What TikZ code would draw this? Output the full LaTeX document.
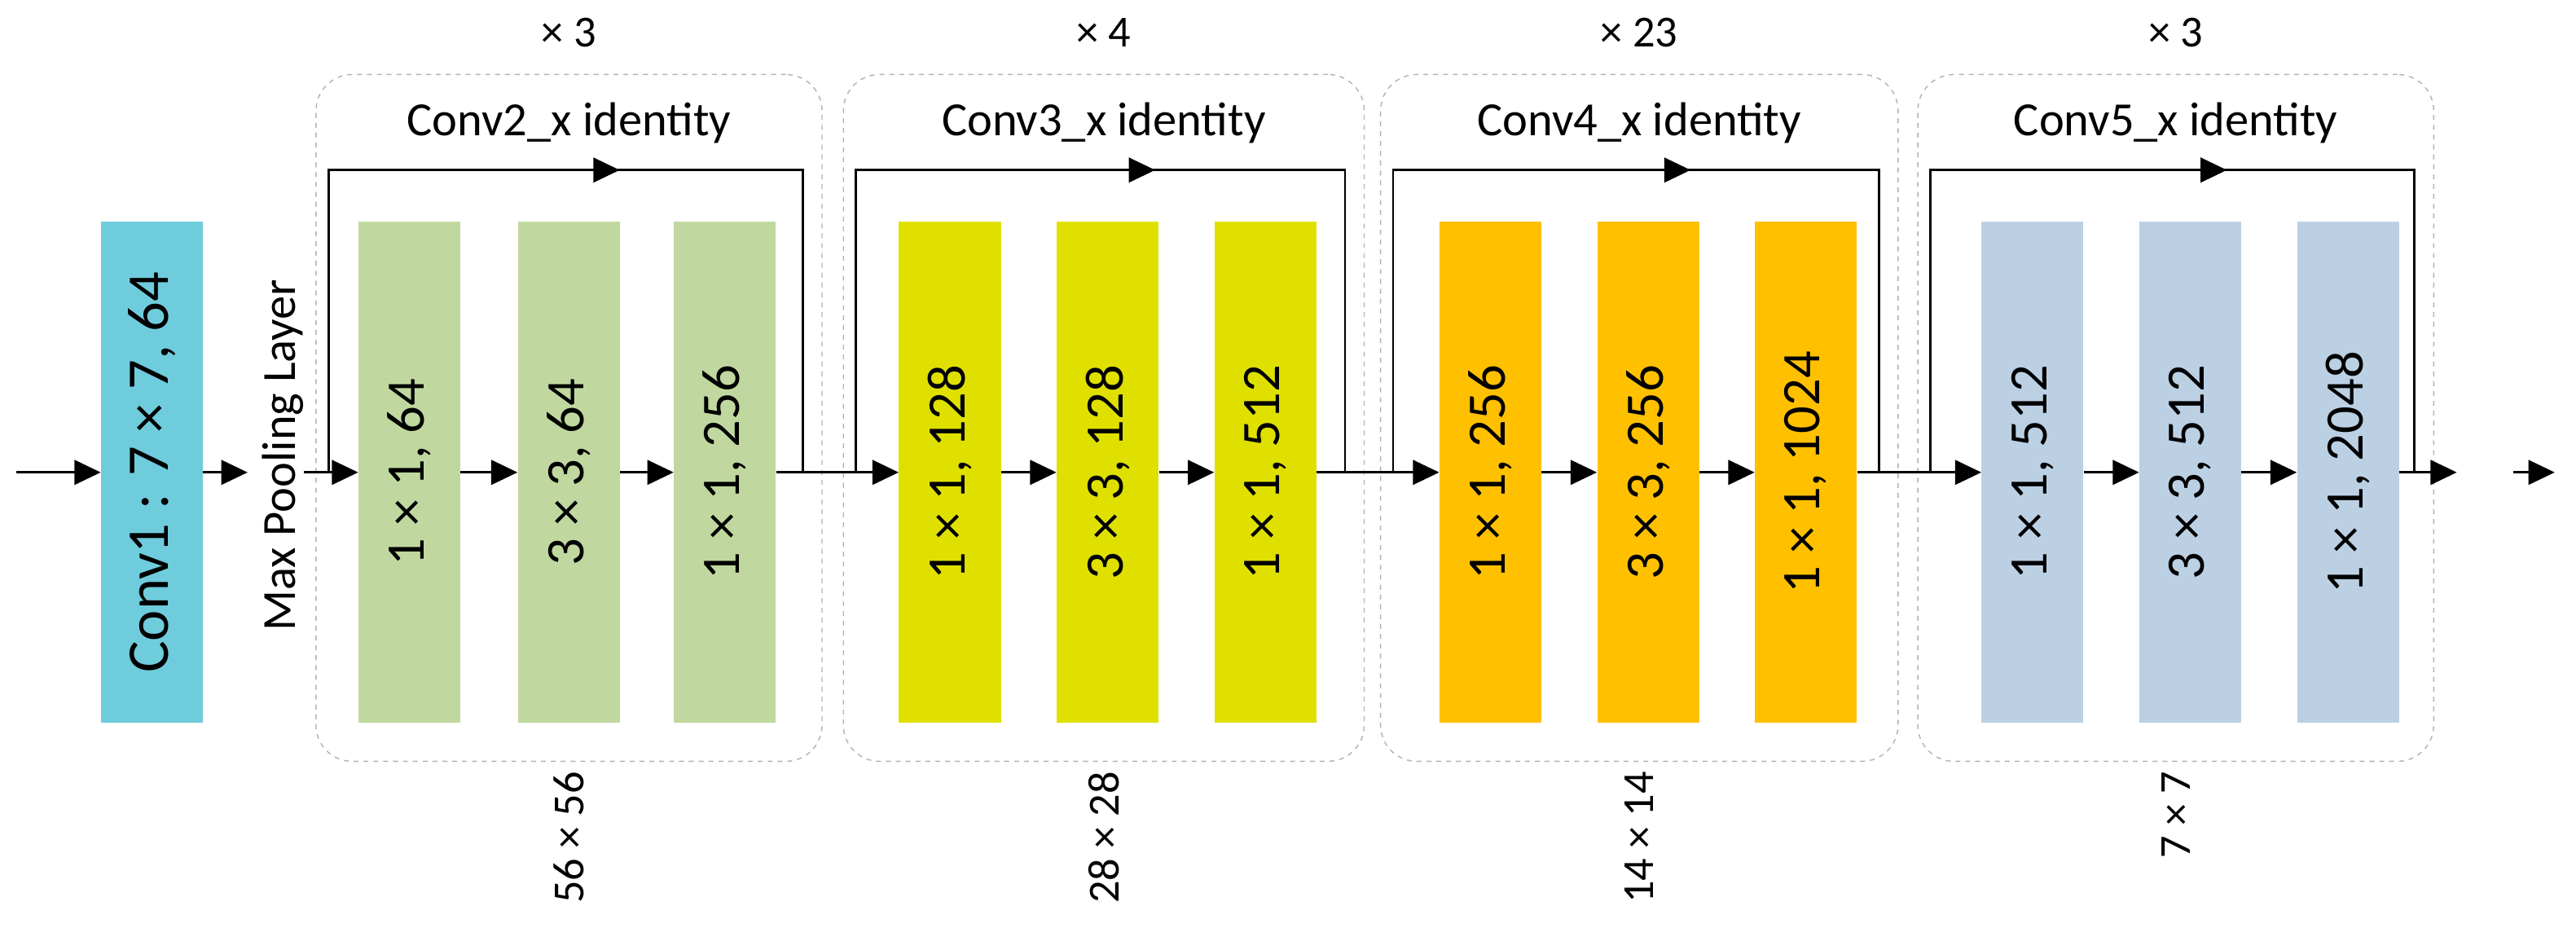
\documentclass[tikz,border=0pt]{standalone}
\usepackage{fontspec}
\setmainfont{Carlito}
\usetikzlibrary{arrows.meta,decorations.markings}
\definecolor{cA}{HTML}{6FCCDD}
\definecolor{cG}{HTML}{C0D89F}
\definecolor{cY}{HTML}{E0E000}
\definecolor{cO}{HTML}{FFC000}
\definecolor{cB}{HTML}{BCD0E4}
\begin{document}
\begin{tikzpicture}[x=1pt,y=-1pt,
  blk/.style={minimum width=62pt,minimum height=305pt,inner sep=0pt,font=\fontsize{33}{33}\selectfont},
  grp/.style={draw=gray!60,dashed,rounded corners=22pt,line width=0.7pt},
  ar/.style={-{Triangle[length=16pt,width=15pt]},line width=1.4pt},
  ln/.style={line width=1.4pt},
  mid/.style={postaction={decorate},decoration={markings,mark=at position 0.55 with {\arrow{Triangle[length=16pt,width=15pt]}}}}]
\useasboundingbox (0,0) rectangle (1568,570);
\node[blk,fill=cA,font=\fontsize{36}{36}\selectfont] (c1) at (92.5,287.5) {\rotatebox{90}{Conv1 : 7 × 7, 64}};
\coordinate (in) at (10,287.5);
\draw[ar] (in) -- (c1.west);
\node[font=\fontsize{29}{29}\selectfont] (mp) at (172,277) {\rotatebox{90}{Max Pooling Layer}};
\draw[ar] (c1.east) -- ++(27,0) coordinate (a1);
% groups
\foreach \g/\gx/\gw/\col/\rep/\name/\sz/\b/\c/\d/\la/\lb/\lc in {
 1/192/308/cG/3/2/56 × 56/218/315/410/{1 × 1, 64}/{3 × 3, 64}/{1 × 1, 256},
 2/513/317/cY/4/3/28 × 28/547/643/739/{1 × 1, 128}/{3 × 3, 128}/{1 × 1, 512},
 3/840/315/cO/23/4/14 × 14/876/972/1068/{1 × 1, 256}/{3 × 3, 256}/{1 × 1, 1024},
 4/1167/314/cB/3/5/7 × 7/1206/1302/1398/{1 × 1, 512}/{3 × 3, 512}/{1 × 1, 2048}}{
  \node[grp,minimum width=\gw pt,minimum height=418pt,anchor=north west] (g\g) at (\gx,45) {};
  \node[font=\fontsize{27}{27}\selectfont] (r\g) at (g\g.north|-0,20) {× \rep};
  \node[font=\fontsize{29}{29}\selectfont] (t\g) at (g\g.north|-0,75) {Conv\name\_x identity};
  \node[font=\fontsize{27}{27}\selectfont,anchor=north] (s\g) at (g\g.north|-0,466) {\rotatebox{90}{\sz}};
  \node[blk,fill=\col,anchor=west] (b\g1) at (\b,287.5) {\rotatebox{90}{\la}};
  \node[blk,fill=\col,anchor=west] (b\g2) at (\c,287.5) {\rotatebox{90}{\lb}};
  \node[blk,fill=\col,anchor=west] (b\g3) at (\d,287.5) {\rotatebox{90}{\lc}};
  \draw[ar] (b\g1.east) -- (b\g2.west);
  \draw[ar] (b\g2.east) -- (b\g3.west);
  \coordinate (sl\g) at ([xshift=-\b pt+\gx pt+8pt]b\g1.west);
  \coordinate (sr\g) at ([xshift=-12pt]g\g.east|-b\g3.east);
  \draw[ln,mid] (sl\g) -- ++(0,-184) -| (sr\g);
}
\draw[ar] ([xshift=-33pt]b11.west) -- (b11.west);
\draw[ar] (b13.east) -- (b21.west);
\draw[ar] (b23.east) -- (b31.west);
\draw[ar] (b33.east) -- (b41.west);
\draw[ar] (b43.east) -- ++(35,0) coordinate (o1);
\coordinate (o2) at (1530,287.5);
\draw[ar] (o2) -- ++(25,0);
\end{tikzpicture}
\end{document}
